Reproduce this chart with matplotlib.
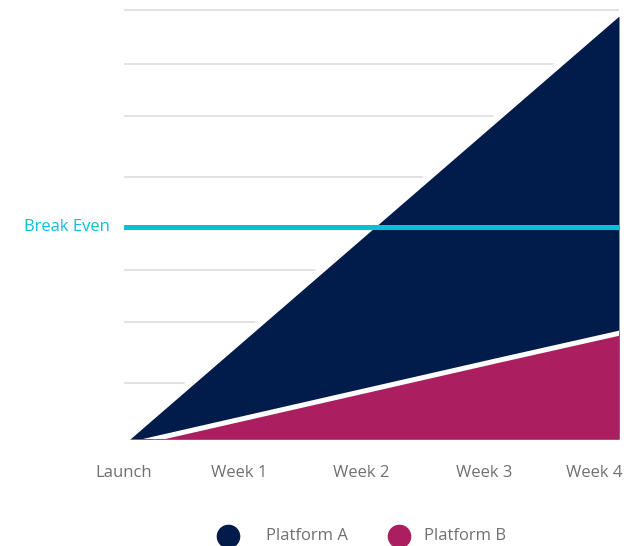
import matplotlib
matplotlib.use("Agg")
import matplotlib.pyplot as plt
import matplotlib.transforms as mtransforms
from matplotlib.lines import Line2D

# chart data
weeks = ["Launch", "Week 1", "Week 2", "Week 3", "Week 4"]
platform_a = [0, 25, 50, 75, 100]
platform_b = [-1.3, 5.3, 11.9, 18.5, 25]
break_even = 50
grid_levels = [13.2, 27.7, 40.0, 62.0, 76.4, 88.7, 101.4]
series_names = ["Platform A", "Platform B"]

navy = "#011b4a"
magenta = "#ab1f61"
cyan = "#0cbfd9"
grey_text = "#707070"

plt.rcParams["font.family"] = ["Open Sans", "DejaVu Sans"]

W, H = 631, 546
fig = plt.figure(figsize=(W / 100, H / 100), dpi=100)
ax = fig.add_axes([124 / W, 107 / H, 495 / W, 434 / H])

x = list(range(len(weeks)))

# background grid lines
for g in grid_levels:
    ax.axhline(g, color="#dadada", lw=1.1, zorder=1)

# white halo along top edge of A keeps the grid lines off the triangle
ax.plot(x, platform_a, color="white", lw=9.4, zorder=1.5, solid_capstyle="butt")
ax.fill_between(x, 0, platform_a, color=navy, lw=0, zorder=2)
ax.fill_between(x, 0, platform_b, color=magenta, lw=0, zorder=3)
ax.plot(x, platform_b, color="white", lw=3.6, zorder=4)

ax.axhline(break_even, color=cyan, lw=3.6, zorder=5)
ax.text(-0.165, break_even, "Break Even", color=cyan, fontsize=12,
        ha="right", va="center")

ax.set_xlim(-0.049, 4)
ax.set_ylim(0, 102.6)
ax.set_yticks([])
ax.set_xticks(x)
ax.set_xticklabels(weeks, color=grey_text, fontsize=12)
ax.tick_params(axis="x", length=0, pad=19)
for s in ax.spines.values():
    s.set_visible(False)

# nudge labels to where the reference puts them
shifts = [-6, -13, -13, -13, 3]
for lab, dx in zip(ax.get_xticklabels(), shifts):
    lab.set_transform(lab.get_transform() +
                      mtransforms.ScaledTranslation(dx / 100, 0, fig.dpi_scale_trans))
ax.get_xticklabels()[-1].set_ha("right")

# legend drawn by hand: dot then label
legend_y = 1 - 536 / H
for name, col, dot_x, text_x in zip(series_names, [navy, magenta], [228, 399], [266, 424]):
    fig.add_artist(Line2D([dot_x / W], [legend_y], ls="", marker="o", markersize=16,
                          color=col, transform=fig.transFigure))
    fig.text(text_x / W, legend_y, name, color=grey_text, fontsize=12,
             ha="left", va="center")

fig.savefig("out.png", dpi=100)
